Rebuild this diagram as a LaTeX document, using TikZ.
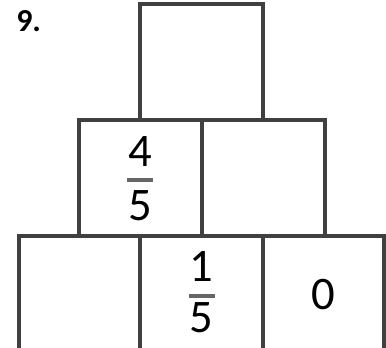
\documentclass[tikz,border=0pt]{standalone}
\usepackage{fontspec}
\setmainfont{Carlito}
\usetikzlibrary{positioning}

\begin{document}
\begin{tikzpicture}[x=0.75pt,y=-0.75pt]

\tikzset{
  cell/.style  = {draw=black!75, line width=3pt, inner sep=0pt,
                  minimum width=92.25pt, minimum height=87pt},
  edge/.style  = {cell, minimum width=90.75pt},
  digit/.style = {font=\fontsize{35}{40}\selectfont, inner sep=0pt, anchor=base},
  bar/.style   = {draw=black!60, line width=3pt},
  num/.style   = {font=\bfseries\fontsize{24}{28}\selectfont, inner sep=0pt, anchor=base west},
}

\useasboundingbox (0,0) rectangle (386,348);

% pyramid
\node[cell] (top) at (201.5,62) {};
\node[cell] (mid1) at (140,178) {};
\node[cell] (mid2) at (263,178) {};
\node[edge] (bot1) at (79.5,294) {};
\node[cell] (bot2) at (201.5,294) {};
\node[edge] (bot3) at (323.5,294) {};

% entries
\node[num] (qno) at (16,32) {9.};
\draw[bar] ([shift={(-13,2)}]mid1.center) -- ([shift={(13,2)}]mid1.center);
\node[digit] (n1) at ([shift={(0,-11)}]mid1.center) {4};
\node[digit] (d1) at ([shift={(0,43)}]mid1.center) {5};
\draw[bar] ([shift={(-13,2)}]bot2.center) -- ([shift={(13,2)}]bot2.center);
\node[digit] (n2) at ([shift={(0,-12)}]bot2.center) {1};
\node[digit] (d2) at ([shift={(0,39)}]bot2.center) {5};
\node[digit] (z3) at ([shift={(0,16)}]bot3.center) {0};
\end{tikzpicture}
\end{document}
